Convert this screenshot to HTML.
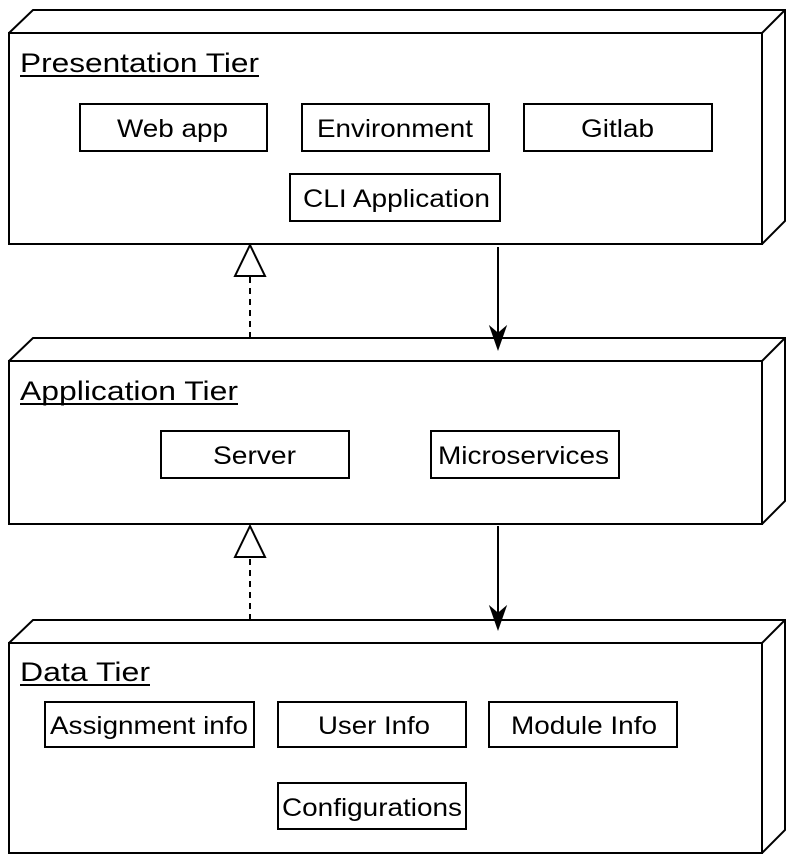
<!DOCTYPE html>
<html><head><meta charset="utf-8"><style>
html,body{margin:0;padding:0;background:#fff;width:790px;height:860px;overflow:hidden}
</style></head><body>
<svg width="790" height="860" xmlns="http://www.w3.org/2000/svg" font-family="Liberation Sans, sans-serif" fill="none" stroke="#000" stroke-width="2">
<path d="M9 33 L33 10 L785 10 L785 221 L762 244 M762 33 L785 10 M9 33 H762 V244 H9 Z" fill="#fff"/>
<path d="M9 361 L33 338 L785 338 L785 501 L762 524 M762 361 L785 338 M9 361 H762 V524 H9 Z" fill="#fff"/>
<path d="M9 643 L33 620 L785 620 L785 830 L762 853 M762 643 L785 620 M9 643 H762 V853 H9 Z" fill="#fff"/>
<g fill="#fff">
<rect x="80" y="104" width="187" height="47"/>
<rect x="302" y="104" width="187" height="47"/>
<rect x="524" y="104" width="188" height="47"/>
<rect x="290" y="174" width="210" height="47"/>
<rect x="161" y="431" width="188" height="47"/>
<rect x="431" y="431" width="188" height="47"/>
<rect x="45" y="702" width="209" height="45"/>
<rect x="278" y="702" width="188" height="45"/>
<rect x="489" y="702" width="188" height="45"/>
<rect x="278" y="783" width="188" height="46"/>
</g>
<path d="M250 338 V276" stroke-dasharray="6,5"/>
<path d="M250 245 L235 276 H265 Z" fill="#fff"/>
<path d="M250 620 V557" stroke-dasharray="6,5"/>
<path d="M250 526 L235 557 H265 Z" fill="#fff"/>
<path d="M498 247 V340"/>
<path d="M498 348 L491 328 L498 334 L505 328 Z" fill="#000"/>
<path d="M498 526 V620"/>
<path d="M498 628 L491 608 L498 614 L505 608 Z" fill="#000"/>
<g fill="#000" stroke="none" font-size="25" lengthAdjust="spacingAndGlyphs">
<text x="117" y="137" textLength="111" lengthAdjust="spacingAndGlyphs">Web app</text>
<text x="317" y="137" textLength="156" lengthAdjust="spacingAndGlyphs">Environment</text>
<text x="581" y="137" textLength="73" lengthAdjust="spacingAndGlyphs">Gitlab</text>
<text x="303" y="207" textLength="187" lengthAdjust="spacingAndGlyphs">CLI Application</text>
<text x="213" y="464" textLength="83" lengthAdjust="spacingAndGlyphs">Server</text>
<text x="438" y="464" textLength="171" lengthAdjust="spacingAndGlyphs">Microservices</text>
<text x="50" y="734" textLength="198" lengthAdjust="spacingAndGlyphs">Assignment info</text>
<text x="318" y="734" textLength="112" lengthAdjust="spacingAndGlyphs">User Info</text>
<text x="511" y="734" textLength="146" lengthAdjust="spacingAndGlyphs">Module Info</text>
<text x="282" y="816" textLength="180" lengthAdjust="spacingAndGlyphs">Configurations</text>
</g>
<g fill="#000" stroke="none" font-size="27">
<text x="20" y="72" textLength="239" lengthAdjust="spacingAndGlyphs">Presentation Tier</text>
<text x="20" y="400" textLength="218" lengthAdjust="spacingAndGlyphs">Application Tier</text>
<text x="20" y="681" textLength="130" lengthAdjust="spacingAndGlyphs">Data Tier</text>
</g>
<path d="M20 76 H259 M20 404 H238 M20 685 H150"/>
</svg>
</body></html>
